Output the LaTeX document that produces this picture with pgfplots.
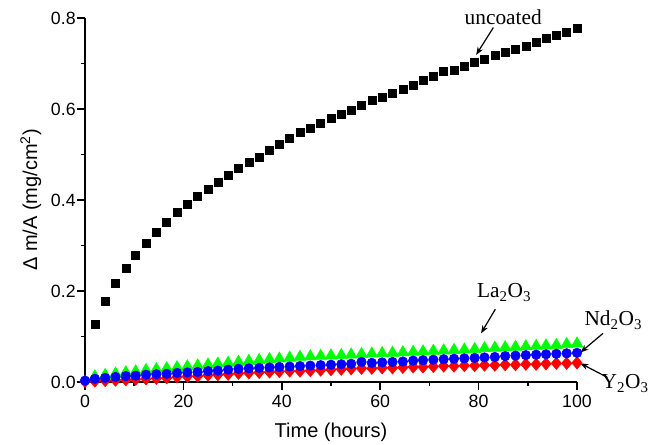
\documentclass[border=0pt]{standalone}
\usepackage{pgfplots}
\pgfplotsset{compat=1.18}
\usetikzlibrary{arrows.meta}
\usepackage{fontspec}
\setmainfont{Liberation Sans}
\newfontfamily\serif{Liberation Serif}
\begin{document}
\begin{tikzpicture}
\useasboundingbox (-63.75pt,-47.25pt) rectangle (434.25pt,286.5pt);
\begin{axis}[
  scale only axis, width=369pt, height=273pt,
  at={(0,0)}, anchor=south west,
  xmin=0, xmax=100, ymin=0, ymax=0.8,
  axis x line*=bottom, axis y line*=left,
  axis line style={line width=1.1pt},
  every tick/.style={line width=1.1pt, black},
  tick align=outside,
  major tick length=6pt, minor tick length=3pt,
  xtick={0,20,40,60,80,100}, ytick={0,0.2,0.4,0.6,0.8},
  minor x tick num=1, minor y tick num=1,
  yticklabel style={/pgf/number format/fixed,/pgf/number format/fixed zerofill,/pgf/number format/precision=1,xshift=2.5pt},
  /pgf/number format/assume math mode=true,
  tick label style={font=\fontsize{13.3}{15}\selectfont},
  label style={font=\fontsize{15}{17}\selectfont},
  xlabel={Time (hours)},
  ylabel={Δ m/A (mg/cm\textsuperscript{2})},
  x label style={at={(axis description cs:0.5,-0.137)},anchor=center},
  y label style={at={(axis description cs:-0.11,0.5)},anchor=center},
  clip=false,
]
% La2O3
\addplot[only marks, mark=triangle*, mark size=5.1pt, color={rgb,255:red,0;green,255;blue,0}] coordinates {
(2.0,0.012)(4.1,0.015)(6.2,0.018)(8.3,0.021)(10.3,0.023)(12.4,0.026)(14.5,0.028)(16.6,0.030)
(18.7,0.032)(20.8,0.034)(22.9,0.036)(25.0,0.038)(27.0,0.040)(29.1,0.042)(31.2,0.044)(33.3,0.046)
(35.4,0.048)(37.5,0.050)(39.5,0.051)(41.6,0.053)(43.7,0.055)(45.8,0.056)(47.9,0.057)(50.0,0.058)
(52.1,0.059)(54.1,0.060)(56.2,0.061)(58.3,0.062)(60.4,0.063)(62.5,0.064)(64.6,0.065)(66.7,0.066)
(68.7,0.067)(70.8,0.068)(72.9,0.069)(75.0,0.070)(77.1,0.071)(79.2,0.072)(81.2,0.074)(83.3,0.075)
(85.4,0.076)(87.5,0.077)(89.6,0.078)(91.7,0.079)(93.7,0.080)(95.8,0.081)(97.9,0.083)(100.0,0.084)
};
% Y2O3
\addplot[only marks, mark=diamond*, mark size=4.6pt, mark options={xscale=1.13}, color={rgb,255:red,255;green,0;blue,0}] coordinates {
(0,0.001)(2.0,0.002)(4.1,0.003)(6.2,0.004)(8.3,0.005)(10.3,0.006)(12.4,0.007)(14.5,0.008)(16.6,0.009)
(18.7,0.011)(20.8,0.012)(22.9,0.013)(25.0,0.015)(27.0,0.016)(29.1,0.017)(31.2,0.019)(33.3,0.020)
(35.4,0.021)(37.5,0.022)(39.5,0.023)(41.6,0.024)(43.7,0.024)(45.8,0.025)(47.9,0.026)(50.0,0.027)
(52.1,0.028)(54.1,0.029)(56.2,0.030)(58.3,0.030)(60.4,0.031)(62.5,0.031)(64.6,0.032)(66.7,0.033)
(68.7,0.033)(70.8,0.034)(72.9,0.035)(75.0,0.035)(77.1,0.036)(79.2,0.036)(81.2,0.037)(83.3,0.037)
(85.4,0.038)(87.5,0.038)(89.6,0.039)(91.7,0.039)(93.7,0.040)(95.8,0.041)(97.9,0.041)(100.0,0.042)
};
% Nd2O3
\addplot[only marks, mark=*, mark size=3.6pt, color={rgb,255:red,0;green,0;blue,255}] coordinates {
(0,0.003)(2.0,0.007)(4.1,0.009)(6.2,0.011)(8.3,0.013)(10.3,0.014)(12.4,0.016)(14.5,0.017)(16.6,0.018)
(18.7,0.020)(20.8,0.021)(22.9,0.022)(25.0,0.024)(27.0,0.025)(29.1,0.027)(31.2,0.029)(33.3,0.030)
(35.4,0.031)(37.5,0.032)(39.5,0.033)(41.6,0.034)(43.7,0.035)(45.8,0.036)(47.9,0.037)(50.0,0.038)
(52.1,0.039)(54.1,0.040)(56.2,0.044)(58.3,0.042)(60.4,0.043)(62.5,0.044)(64.6,0.045)(66.7,0.047)
(68.7,0.048)(70.8,0.049)(72.9,0.050)(75.0,0.051)(77.1,0.052)(79.2,0.053)(81.2,0.054)(83.3,0.055)
(85.4,0.057)(87.5,0.058)(89.6,0.059)(91.7,0.060)(93.7,0.061)(95.8,0.062)(97.9,0.063)(100.0,0.064)
};
% uncoated
\addplot[only marks, mark=square*, mark size=3pt, color=black] coordinates {
(2.0,0.127)(4.1,0.177)(6.2,0.218)(8.3,0.250)(10.3,0.278)(12.4,0.304)(14.5,0.328)(16.6,0.350)
(18.7,0.372)(20.8,0.390)(22.9,0.409)(25.0,0.424)(27.0,0.439)(29.1,0.454)(31.2,0.469)(33.3,0.483)
(35.4,0.495)(37.5,0.510)(39.5,0.523)(41.6,0.536)(43.7,0.548)(45.8,0.557)(47.9,0.568)(50.0,0.579)
(52.1,0.589)(54.1,0.598)(56.2,0.609)(58.3,0.619)(60.4,0.626)(62.5,0.635)(64.6,0.644)(66.7,0.653)
(68.7,0.664)(70.8,0.671)(72.9,0.682)(75.0,0.686)(77.1,0.694)(79.2,0.702)(81.2,0.709)(83.3,0.718)
(85.4,0.724)(87.5,0.731)(89.6,0.738)(91.7,0.746)(93.7,0.755)(95.8,0.763)(97.9,0.769)(100.0,0.778)
};
% annotations
\node[font=\serif\fontsize{16}{18}\selectfont] at (axis cs:85.0,0.801) {uncoated};
\draw[-{Stealth[length=6pt,width=4.5pt]}, line width=0.9pt] (axis cs:83.0,0.779) -- (axis cs:79.5,0.719);
\node[font=\serif\fontsize{16}{18}\selectfont] at (axis cs:85.2,0.197) {La\textsubscript{2}O\textsubscript{3}};
\draw[-{Stealth[length=6pt,width=4.5pt]}, line width=0.9pt] (axis cs:83.4,0.160) -- (axis cs:80.5,0.107);
\node[font=\serif\fontsize{16}{18}\selectfont] at (axis cs:107.4,0.136) {Nd\textsubscript{2}O\textsubscript{3}};
\draw[-{Stealth[length=6pt,width=4.5pt]}, line width=0.9pt] (axis cs:105.3,0.107) -- (axis cs:100.7,0.065);
\node[font=\serif\fontsize{16}{18}\selectfont] at (axis cs:109.8,-0.003) {Y\textsubscript{2}O\textsubscript{3}};
\draw[-{Stealth[length=6pt,width=4.5pt]}, line width=0.9pt] (axis cs:106.2,0.010) -- (axis cs:100.7,0.041);
\end{axis}
\end{tikzpicture}
\end{document}
